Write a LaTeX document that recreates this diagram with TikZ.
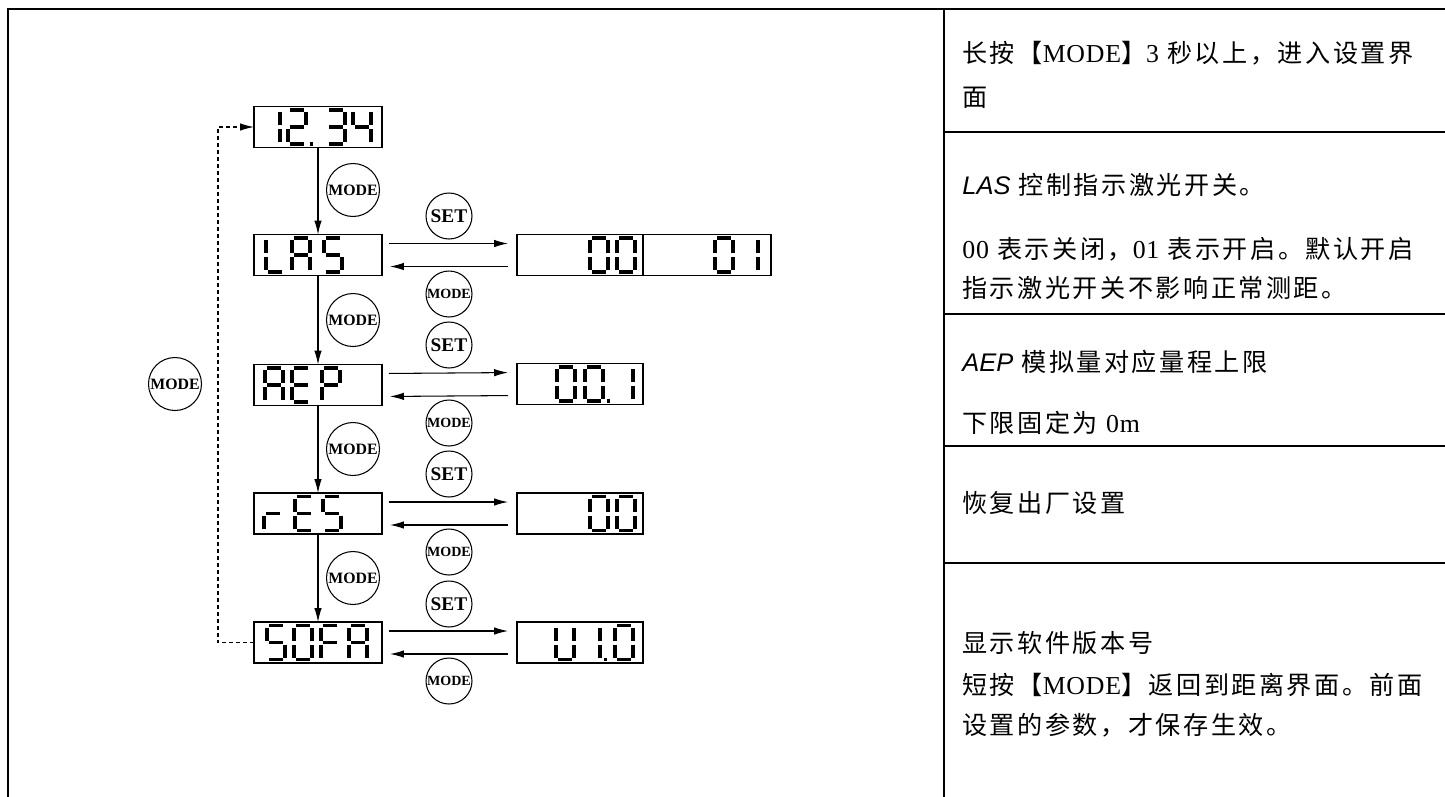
\documentclass[tikz,border=0pt]{standalone}
\usepackage{fontspec}
\setmainfont{Liberation Serif}
\newfontfamily\cjk[LetterSpace=10]{Noto Sans CJK SC}
\newfontfamily\latin[LetterSpace=3]{Liberation Serif}
\newfontfamily\lasfont{Liberation Sans}
\usetikzlibrary{arrows.meta, positioning}
\newcommand{\en}[1]{{\latin\fontsize{14.7pt}{17pt}\selectfont #1}}
\newcommand{\code}[1]{{\lasfont\itshape\fontsize{14.5pt}{17pt}\selectfont #1}}

% seven segment digit, origin top left, 18 x 34 px
\tikzset{
  segline/.style={line width=0.07cm, line cap=butt},
  seg a/.style={insert path={(2,0)--(16,0)}},
  seg b/.style={insert path={(18,2)--(18,15)}},
  seg c/.style={insert path={(18,19)--(18,32)}},
  seg d/.style={insert path={(2,34)--(16,34)}},
  seg e/.style={insert path={(0,19)--(0,32)}},
  seg f/.style={insert path={(0,2)--(0,15)}},
  seg g/.style={insert path={(2,17)--(16,17)}},
  seg p/.style={insert path={(22,34)--(25,34)}},
  sevenseg/.pic={\foreach \s in {#1} {\draw[segline, seg \s];}}
}

\begin{document}
\begin{tikzpicture}[x=0.02cm, y=-0.02cm,
    disp/.style={draw, line width=0.8pt, minimum width=2.56cm, minimum height=0.82cm,
                 inner sep=0pt, outer sep=0pt},
    keybig/.style={circle, draw, line width=0.6pt, minimum size=1.06cm, inner sep=0pt,
                   font=\bfseries\fontsize{9pt}{9pt}\selectfont},
    keysmall/.style={keybig, minimum size=0.92cm, font=\bfseries\fontsize{8pt}{8pt}\selectfont},
    keyset/.style={keysmall, font=\bfseries\fontsize{11pt}{11pt}\selectfont},
    nextarrow/.style={-{Latex[length=0.28cm, width=0.15cm]}, line width=0.6pt},
    retarrow/.style={nextarrow, dash pattern=on 0.08cm off 0.06cm},
    fwdside/.style={nextarrow, shorten <=0.14cm, shorten >=0.18cm},
    backside/.style={nextarrow, shorten <=0.18cm, shorten >=0.16cm},
    note/.style={anchor=west, inner sep=0pt, font=\cjk\fontsize{14.3pt}{17pt}\selectfont},
    tbl/.style={line width=0.75pt}
  ]
    \useasboundingbox (0,0) rectangle (1445,796);
    \clip (0,0) rectangle (1445,796);

    % table frame
    \draw[tbl] (8,810) -- (8,9) -- (1460,9);
    \draw[tbl] (944,9) -- (944,810);
    \foreach \y in {132,314,446,563} {
      \draw[tbl] (944,\y) -- (1460,\y);
    }

    % menu column
    \node[disp] (home) at (318,127) {};
    \node[disp] (las) at (318,255) {};
    \node[disp] (aep) at (318,385) {};
    \node[disp] (res) at (318,513.5) {};
    \node[disp] (sofa) at (318,642.5) {};

    % value displays
    \node[disp, minimum width=2.52cm] (lasoff) at (580,255) {};
    \node[disp, right=0pt of lasoff] (lason) {};
    \node[disp, minimum width=2.52cm] (aepval) at (580,384) {};
    \node[disp, minimum width=2.52cm] (resval) at (580,513.5) {};
    \node[disp, minimum width=2.52cm] (sofaval) at (580,642.5) {};

    % 12.34
    \pic at (262,110) {sevenseg={b,c}};
    \pic at (288,110) {sevenseg={a,b,g,e,d,p}};
    \pic at (327,110) {sevenseg={a,b,g,c,d}};
    \pic at (353,110) {sevenseg={f,b,g,c}};
    % LAS
    \pic at (266,238) {sevenseg={f,e,d}};
    \pic at (292,238) {sevenseg={a,b,c,e,f,g}};
    \pic at (324,238) {sevenseg={a,f,g,c,d}};
    % AEP
    \pic at (265,368) {sevenseg={a,b,c,e,f,g}};
    \pic at (292,368) {sevenseg={a,f,g,e,d}};
    \pic at (322,368) {sevenseg={a,b,f,g,e}};
    % rES
    \pic at (264,496.5) {sevenseg={e,g}};
    \pic at (295,496.5) {sevenseg={a,f,g,e,d}};
    \pic at (323,496.5) {sevenseg={a,f,g,c,d}};
    % SOFA
    \pic at (267,625.5) {sevenseg={a,f,g,c,d}};
    \pic at (294,625.5) {sevenseg={a,b,c,d,e,f}};
    \pic at (321,625.5) {sevenseg={a,f,g,e}};
    \pic at (349,625.5) {sevenseg={a,b,c,e,f,g}};
    % 00 | 01
    \pic at (590,238) {sevenseg={a,b,c,d,e,f}};
    \pic at (617,238) {sevenseg={a,b,c,d,e,f}};
    \pic at (715,238) {sevenseg={a,b,c,d,e,f}};
    \pic at (740,238) {sevenseg={b,c}};
    % 00.1
    \pic at (557,367) {sevenseg={a,b,c,d,e,f}};
    \pic at (585,367) {sevenseg={a,b,c,d,e,f,p}};
    \pic at (615,367) {sevenseg={b,c}};
    % 00
    \pic at (590,496.5) {sevenseg={a,b,c,d,e,f}};
    \pic at (617,496.5) {sevenseg={a,b,c,d,e,f}};
    % V1.0
    \pic at (556,625.5) {sevenseg={b,c,d,e,f}};
    \pic at (582,625.5) {sevenseg={b,c,p}};
    \pic at (615,625.5) {sevenseg={a,b,c,d,e,f}};

    % keys
    \foreach \i/\y in {1/190,2/320,3/449,4/578} {
      \node[keybig] (mode\i) at (353,\y) {MODE};
    }
    \node[keybig] (modeback) at (175,384) {MODE};
    \foreach \i/\y in {1/216,2/345,3/474,4/604} {
      \node[keyset] (set\i) at (449,\y) {SET};
    }
    \foreach \i/\y in {1/294,2/423,3/552,4/681} {
      \node[keysmall] (esc\i) at (449,\y) {MODE};
    }

    % flow
    \draw[nextarrow] (home) -- (las);
    \draw[nextarrow] (las) -- (aep);
    \draw[nextarrow] (aep) -- (res);
    \draw[nextarrow] (res) -- (sofa);
    \draw[retarrow] (sofa.west) -- ++(-36,0) |- (home.west);
    \foreach \a/\b in {las/lasoff, aep/aepval, res/resval, sofa/sofaval} {
      \draw[fwdside] ([yshift=0.23cm]\a.east) -- ([yshift=0.23cm]\b.west);
      \draw[backside] ([yshift=-0.23cm]\b.west) -- ([yshift=-0.23cm]\a.east);
    }

    % notes
    \node[note] (n1) at (962,53) {长按【\en{MODE}】\en{3} 秒以上，进入设置界};
    \node[note] (n2) at (962,98) {面};
    \node[note] (n3) at (962,185) {\code{LAS} 控制指示激光开关。};
    \node[note] (n4) at (962,249) {\en{00} 表示关闭，\en{01} 表示开启。默认开启};
    \node[note] (n5) at (962,288) {指示激光开关不影响正常测距。};
    \node[note] (n6) at (962,362) {\code{AEP} 模拟量对应量程上限};
    \node[note] (n7) at (962,423) {下限固定为 \en{0m}};
    \node[note] (n8) at (962,503) {恢复出厂设置};
    \node[note] (n9) at (962,643) {显示软件版本号};
    \node[note] (n10) at (962,685) {短按【\en{MODE}】返回到距离界面。前面};
    \node[note] (n11) at (962,725) {设置的参数，才保存生效。};
\end{tikzpicture}
\end{document}
